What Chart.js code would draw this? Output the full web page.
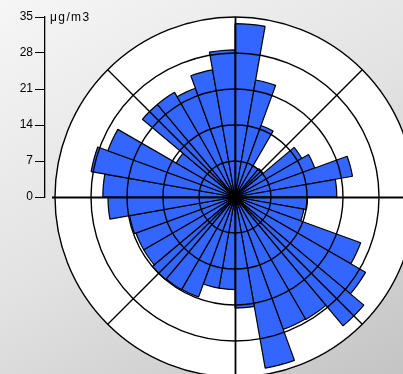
<!DOCTYPE html>
<html>
<head>
<meta charset="utf-8">
<script src="https://cdn.jsdelivr.net/npm/chart.js@4.4.1/dist/chart.umd.min.js"></script>
<style>
html, body { margin: 0; padding: 0; width: 403px; height: 374px; overflow: hidden; }
body { position: relative; background: linear-gradient(150deg, #f6f6f6 0%, #e2e2e2 50%, #c4c4c4 100%); font-family: "Liberation Sans", Arial, sans-serif; }
#rose { position: absolute; left: 0; top: 0; }
#axis { position: absolute; left: 0; top: 0; }
#unit { position: absolute; left: 50px; top: 10px; font-size: 12px; letter-spacing: 1.4px; color: #000; line-height: 14px; }
</style>
</head>
<body>
<canvas id="rose" width="430" height="400"></canvas>
<canvas id="axis" width="60" height="215"></canvas>
<div id="unit"></div>
<script>
// --- Data ---
const directions = ['0', '10', '20', '30', '40', '50', '60', '70', '80', '90', '100', '110',
                    '120', '130', '140', '150', '160', '170', '180', '190', '200', '210', '220', '230',
                    '240', '250', '260', '270', '280', '290', '300', '310', '320', '330', '340', '350'];
const concentration = [33.7, 23.1, 14.8, 7.0, 7.2, 15.0, 16.5, 23.2, 19.8, 14.1, 13.6, 26.0,
                       29.3, 32.7, 27.5, 27.4, 33.8, 21.6, 18.0, 18.0, 20.7, 20.8, 21.0, 20.5,
                       20.5, 20.8, 24.7, 25.7, 28.4, 26.3, 13.2, 23.5, 23.5, 22.5, 25.1, 28.6];
const ringValues = [7, 14, 21, 28, 35];
const axisAngles = [45, 135, 225, 315];
const yTicks = [0, 7, 14, 21, 28, 35];
const unitLabel = 'μg/m3';

document.getElementById('unit').textContent = unitLabel;

// --- grid on top of the bars ---
const roseGrid = {
    id: 'roseGrid',
    afterDatasetsDraw(chart) {
        const s = chart.scales.r;
        const ctx = chart.ctx;
        const cx = s.xCenter, cy = s.yCenter;
        const R = s.getDistanceFromCenterForValue(35);
        ctx.save();
        ctx.strokeStyle = '#000';
        ctx.lineWidth = 1.4;
        ringValues.forEach(v => {
            ctx.beginPath();
            ctx.arc(cx, cy, s.getDistanceFromCenterForValue(v), 0, Math.PI * 2);
            ctx.stroke();
        });
        axisAngles.forEach(a => {
            const rad = a * Math.PI / 180;
            ctx.beginPath();
            ctx.moveTo(cx, cy);
            ctx.lineTo(cx + R * Math.sin(rad), cy - R * Math.cos(rad));
            ctx.stroke();
        });
        ctx.lineWidth = 1.8;
        ctx.beginPath();
        ctx.moveTo(cx - R - 3, cy + 0.5);
        ctx.lineTo(cx + R, cy + 0.5);
        ctx.moveTo(cx + 0.5, cy - R);
        ctx.lineTo(cx + 0.5, cy + R);
        ctx.stroke();
        ctx.restore();
    }
};

// --- rose ---
new Chart(document.getElementById('rose'), {
    type: 'polarArea',
    data: {
        labels: directions,
        datasets: [{
            data: concentration,
            backgroundColor: '#3366ff',
            borderColor: '#000',
            borderWidth: 1.2
        }]
    },
    options: {
        responsive: false,
        animation: false,
        layout: { padding: { left: 55, top: 17, right: 15, bottom: 23 } },
        scales: {
            r: {
                min: 0,
                max: 35,
                startAngle: 0,
                backgroundColor: '#ffffff',
                ticks: { display: false, stepSize: 7 },
                grid: { display: false },
                angleLines: { display: false },
                pointLabels: { display: false }
            }
        },
        plugins: { legend: { display: false }, tooltip: { enabled: false } }
    },
    plugins: [roseGrid]
});

// --- left axis ---
new Chart(document.getElementById('axis'), {
    type: 'scatter',
    data: { datasets: [] },
    options: {
        responsive: false,
        animation: false,
        layout: { padding: { top: 17, bottom: 18, left: 0, right: 0 } },
        scales: {
            x: { display: false },
            y: {
                min: 0,
                max: 35,
                afterBuildTicks: (scale) => { scale.ticks = yTicks.map(v => ({ value: v })); },
                afterFit: (scale) => { scale.width = 45; },
                ticks: { color: '#000', padding: 2, font: { family: 'Liberation Sans', size: 12 } },
                grid: { drawOnChartArea: false, tickLength: 10, color: '#000', lineWidth: 1 },
                border: { color: '#000', width: 1.3 }
            }
        },
        plugins: { legend: { display: false }, tooltip: { enabled: false } }
    }
});
</script>
</body>
</html>
